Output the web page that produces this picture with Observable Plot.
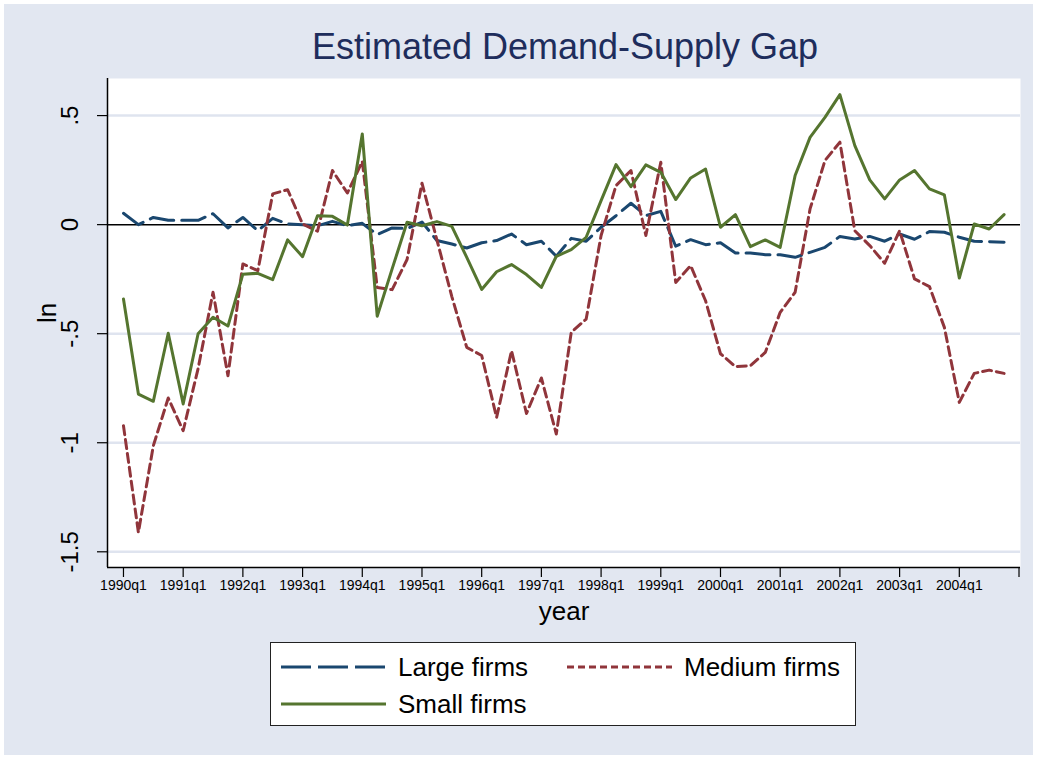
<!DOCTYPE html>
<html>
<head>
<meta charset="utf-8">
<script src="https://cdn.jsdelivr.net/npm/d3@7"></script>
<script src="https://cdn.jsdelivr.net/npm/@observablehq/plot@0.6"></script>
<style>
  html, body { margin: 0; padding: 0; background: #ffffff; }
  #wrap { position: relative; width: 1037px; height: 759px; overflow: hidden; font-family: "Liberation Sans", Arial, Helvetica, sans-serif; }
  #bg { position: absolute; left: 4px; top: 4px; width: 1029px; height: 751px; background: #e2e7f1; }
  #chart { position: absolute; left: 0; top: 0; }
  #title { position: absolute; left: 0; width: 1037px; top: 25px; padding-left: 93px; box-sizing: border-box; text-align: center; font-size: 36px; color: #1e2d5c; line-height: 44px; }
  #legend { position: absolute; left: 270px; top: 642px; width: 586px; height: 84px; background: #fff; border: 1px solid #222; box-sizing: border-box; }
  .item { position: absolute; height: 30px; display: flex; align-items: center; font-size: 26px; color: #000; white-space: nowrap; }
  .item svg { margin-right: 12px; }
</style>
</head>
<body>
<div id="wrap">
  <div id="bg"></div>
  <div id="chart"></div>
  <div id="title">Estimated Demand-Supply Gap</div>
  <div id="legend"></div>
</div>
<script>
// ---- Data (quarter index 0 = 1990q1 ... 59 = 2004q4) ----
const seriesNames = ["Large firms", "Medium firms", "Small firms"];

const largeFirms = [0.052, 0.0, 0.033, 0.02, 0.02, 0.02, 0.05, -0.015, 0.033, -0.028,
  0.029, 0.003, 0.0, -0.005, 0.015, -0.005, 0.006, -0.046, -0.015, -0.018,
  0.012, -0.073, -0.089, -0.107, -0.083, -0.073, -0.043, -0.092, -0.076, -0.145,
  -0.063, -0.076, -0.012, 0.041, 0.098, 0.041, 0.061, -0.099, -0.069, -0.092,
  -0.083, -0.13, -0.13, -0.138, -0.138, -0.15, -0.127, -0.104, -0.054, -0.066,
  -0.054, -0.076, -0.043, -0.067, -0.032, -0.035, -0.058, -0.076, -0.078, -0.081];

const mediumFirms = [-0.922, -1.411, -1.014, -0.795, -0.945, -0.66, -0.31, -0.693, -0.18, -0.211,
  0.141, 0.16, 0.003, -0.03, 0.248, 0.145, 0.29, -0.288, -0.298, -0.16,
  0.19, -0.07, -0.33, -0.563, -0.6, -0.884, -0.578, -0.866, -0.703, -0.96,
  -0.494, -0.433, -0.05, 0.179, 0.248, -0.05, 0.286, -0.265, -0.188, -0.349,
  -0.592, -0.651, -0.647, -0.586, -0.402, -0.31, 0.072, 0.294, 0.378, -0.028,
  -0.096, -0.177, -0.028, -0.249, -0.284, -0.471, -0.815, -0.682, -0.667, -0.682];

const smallFirms = [-0.341, -0.777, -0.81, -0.498, -0.822, -0.5, -0.425, -0.465, -0.227, -0.223,
  -0.252, -0.07, -0.147, 0.041, 0.038, -0.002, 0.416, -0.42, -0.203, 0.011,
  -0.005, 0.014, -0.008, -0.15, -0.297, -0.216, -0.183, -0.229, -0.288, -0.145,
  -0.115, -0.058, 0.11, 0.275, 0.174, 0.274, 0.24, 0.115, 0.214, 0.255,
  -0.012, 0.046, -0.101, -0.07, -0.104, 0.225, 0.4, 0.492, 0.596, 0.362,
  0.205, 0.118, 0.205, 0.248, 0.164, 0.136, -0.245, 0.003, -0.02, 0.046];

const xTicks = [0, 4, 8, 12, 16, 20, 24, 28, 32, 36, 40, 44, 48, 52, 56, 60];
const xTickLabels = ["1990q1", "1991q1", "1992q1", "1993q1", "1994q1", "1995q1", "1996q1", "1997q1",
  "1998q1", "1999q1", "2000q1", "2001q1", "2002q1", "2003q1", "2004q1", ""];
const yTicks = [0.5, 0, -0.5, -1, -1.5];
const yTickLabels = [".5", "0", "-.5", "-1", "-1.5"];
const yGrid = [0.5, -0.5, -1, -1.5];

const colors = {"Large firms": "#1a476f", "Medium firms": "#90353b", "Small firms": "#55752f"};
const dashes = {"Large firms": "24,8", "Medium firms": "9,5", "Small firms": null};

const toRows = (name, arr) => arr.map((v, i) => ({series: name, q: i, v}));
const large = toRows("Large firms", largeFirms);
const medium = toRows("Medium firms", mediumFirms);
const small = toRows("Small firms", smallFirms);

const xDomain = [-1.07, 60.1];
const yDomain = [-1.572, 0.67];

const chart = Plot.plot({
  width: 1037,
  height: 759,
  marginLeft: 107,
  marginRight: 17,
  marginTop: 78,
  marginBottom: 192,
  style: {background: "transparent", fontFamily: "Liberation Sans, Arial, Helvetica, sans-serif", color: "#000"},
  x: {type: "linear", domain: xDomain},
  y: {type: "linear", domain: yDomain},
  marks: [
    Plot.frame({fill: "white", stroke: null}),
    Plot.gridY(yGrid, {stroke: "#dfe4ef", strokeWidth: 2.5, strokeOpacity: 1}),
    Plot.ruleY([0], {stroke: "#000", strokeWidth: 1.5}),
    Plot.ruleX([xDomain[0]], {stroke: "#000", strokeWidth: 1.5}),
    Plot.ruleY([yDomain[0]], {stroke: "#000", strokeWidth: 1.5}),
    Plot.axisX(xTicks, {tickSize: 10, tickPadding: 3, fontSize: 14, strokeWidth: 1.2,
      tickFormat: d => xTickLabels[xTicks.indexOf(d)], label: null}),
    Plot.axisY(yTicks, {tickSize: 10, strokeWidth: 1.2, tickFormat: () => "", label: null}),
    Plot.text(yTicks, {y: d => d, text: d => yTickLabels[yTicks.indexOf(d)], frameAnchor: "left", dx: -37,
      rotate: -90, fontSize: 24, textAnchor: "middle", fill: "#000"}),
    Plot.text(["year"], {text: d => d, frameAnchor: "bottom", dy: 52, fontSize: 26, fill: "#000"}),
    Plot.text(["ln"], {text: d => d, frameAnchor: "left", dx: -60, rotate: -90, fontSize: 26, fill: "#000"}),
    Plot.line(large, {x: "q", y: "v", stroke: colors["Large firms"], strokeWidth: 3, strokeDasharray: dashes["Large firms"], strokeLinejoin: "round"}),
    Plot.line(medium, {x: "q", y: "v", stroke: colors["Medium firms"], strokeWidth: 3, strokeDasharray: dashes["Medium firms"], strokeLinejoin: "round"}),
    Plot.line(small, {x: "q", y: "v", stroke: colors["Small firms"], strokeWidth: 3, strokeLinejoin: "round"})
  ]
});
document.getElementById("chart").appendChild(chart);

// Legend
const legend = document.getElementById("legend");
const positions = {"Large firms": [10, 9], "Medium firms": [296, 9], "Small firms": [10, 46]};
for (const name of seriesNames) {
  const [lx, ly] = positions[name];
  const div = document.createElement("div");
  div.className = "item";
  div.style.left = lx + "px";
  div.style.top = ly + "px";
  const dash = dashes[name] ? ` stroke-dasharray="${dashes[name] === "24,8" ? "30,7" : "7,4"}"` : "";
  div.innerHTML = `<svg width="105" height="10"><line x1="0" y1="5" x2="105" y2="5" stroke="${colors[name]}" stroke-width="3"${dash}/></svg><span>${name}</span>`;
  legend.appendChild(div);
}
</script>
</body>
</html>
